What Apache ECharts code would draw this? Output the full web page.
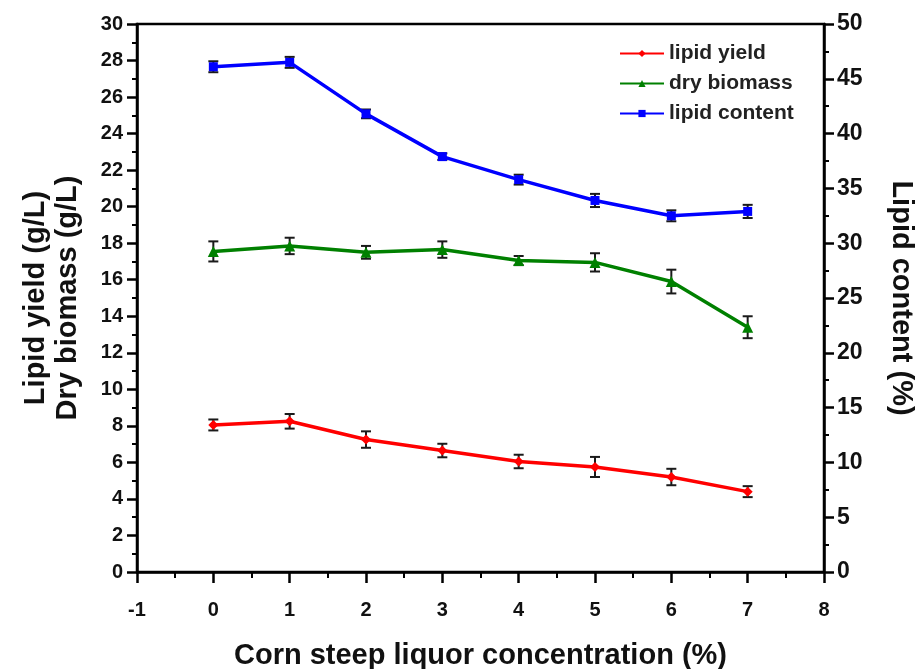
<!DOCTYPE html>
<html>
<head>
<meta charset="utf-8">
<script src="https://cdn.jsdelivr.net/npm/echarts@6/dist/echarts.min.js"></script>
<style>html,body{margin:0;padding:0;background:#fff}#c{width:919px;height:669px}</style>
</head>
<body>
<div id="c"></div>
<script>
const concentration = [0, 1, 2, 3, 4, 5, 6, 7];
const lipidYield = [8.05, 8.25, 7.25, 6.65, 6.05, 5.75, 5.2, 4.4];
const lipidYieldErr = [0.3, 0.4, 0.45, 0.37, 0.37, 0.55, 0.45, 0.3];
const dryBiomass = [17.55, 17.85, 17.5, 17.65, 17.05, 16.95, 15.9, 13.4];
const dryBiomassErr = [0.55, 0.45, 0.35, 0.45, 0.25, 0.5, 0.65, 0.6];
const lipidContent = [46.1, 46.5, 41.8, 37.9, 35.8, 33.9, 32.5, 32.9];
const lipidContentErr = [0.5, 0.5, 0.4, 0.3, 0.45, 0.6, 0.5, 0.6];
const leftTicks = {min: 0, max: 30, interval: 2};
const rightTicks = {min: 0, max: 50, interval: 5};
const xTicks = {min: -1, max: 8, interval: 1};

const FONT = '"Liberation Sans", Arial, sans-serif';
const chart = echarts.init(document.getElementById('c'), null, {renderer: 'canvas'});

function pts(vals) { return concentration.map((x, i) => [x, vals[i]]); }
function errData(vals, errs) { return concentration.map((x, i) => [x, vals[i] - errs[i], vals[i] + errs[i]]); }

function errorBar(vals, errs, yIdx, name) {
  return {
    type: 'custom',
    name: name + '_err',
    yAxisIndex: yIdx,
    z: 1,
    silent: true,
    data: errData(vals, errs),
    encode: {x: 0, y: [1, 2]},
    renderItem: function (params, api) {
      const x = api.value(0);
      const lo = api.coord([x, api.value(1)]);
      const hi = api.coord([x, api.value(2)]);
      const w = 5;
      const st = {stroke: '#1a1a1a', lineWidth: 2};
      return {
        type: 'group',
        children: [
          {type: 'line', shape: {x1: lo[0], y1: lo[1], x2: hi[0], y2: hi[1]}, style: st},
          {type: 'line', shape: {x1: lo[0] - w, y1: lo[1], x2: lo[0] + w, y2: lo[1]}, style: st},
          {type: 'line', shape: {x1: hi[0] - w, y1: hi[1], x2: hi[0] + w, y2: hi[1]}, style: st}
        ]
      };
    }
  };
}

const axisLabelStyle = {color: '#111', fontFamily: FONT, fontWeight: 'bold', fontSize: 20};
const axisLineStyle = {show: true, onZero: false, lineStyle: {color: '#000', width: 2.5}};
const titleStyle = {color: '#111', fontFamily: FONT, fontWeight: 'bold', fontSize: 29};

chart.setOption({
  animation: false,
  backgroundColor: '#fff',
  grid: {left: 137, right: 95, top: 24, bottom: 97, containLabel: false, outerBoundsMode: 'none',
         show: true, borderColor: '#000', borderWidth: 2.5},
  legend: {
    orient: 'vertical',
    left: 614,
    top: 38,
    itemWidth: 44,
    itemHeight: 9,
    itemGap: 9,
    data: ['lipid yield', 'dry biomass', 'lipid content'],
    textStyle: {color: '#222', fontFamily: FONT, fontWeight: 'bold', fontSize: 21}
  },
  xAxis: {
    type: 'value',
    min: xTicks.min, max: xTicks.max, interval: xTicks.interval,
    name: 'Corn steep liquor concentration (%)',
    nameLocation: 'middle',
    nameGap: 69,
    nameTextStyle: titleStyle,
    axisLine: axisLineStyle,
    axisTick: {show: true, inside: false, length: 11, lineStyle: {color: '#000', width: 2.5}},
    minorTick: {show: true, splitNumber: 2, length: 6, lineStyle: {color: '#000', width: 2}},
    axisLabel: Object.assign({margin: 28}, axisLabelStyle),
    splitLine: {show: false}
  },
  yAxis: [
    {
      type: 'value',
      min: leftTicks.min, max: leftTicks.max, interval: leftTicks.interval,
      name: 'Lipid yield (g/L)\nDry biomass (g/L)',
      nameLocation: 'middle',
      nameGap: 53,
      nameRotate: 90,
      nameTextStyle: Object.assign({lineHeight: 32}, titleStyle),
      axisLine: axisLineStyle,
      axisTick: {show: true, length: 10, lineStyle: {color: '#000', width: 2.5}},
      minorTick: {show: true, splitNumber: 2, length: 5, lineStyle: {color: '#000', width: 2}},
      axisLabel: Object.assign({margin: 14}, axisLabelStyle),
      splitLine: {show: false}
    },
    {
      type: 'value',
      position: 'right',
      min: rightTicks.min, max: rightTicks.max, interval: rightTicks.interval,
      name: 'Lipid content (%)',
      nameLocation: 'middle',
      nameGap: 62,
      nameRotate: -90,
      nameTextStyle: titleStyle,
      axisLine: axisLineStyle,
      axisTick: {show: true, length: 10, lineStyle: {color: '#000', width: 2.5}},
      minorTick: {show: true, splitNumber: 2, length: 5, lineStyle: {color: '#000', width: 2}},
      axisLabel: Object.assign({}, axisLabelStyle, {margin: 13, fontSize: 23}),
      splitLine: {show: false}
    }
  ],
  series: [
    errorBar(lipidYield, lipidYieldErr, 0, 'lipid yield'),
    errorBar(dryBiomass, dryBiomassErr, 0, 'dry biomass'),
    errorBar(lipidContent, lipidContentErr, 1, 'lipid content'),
    {
      name: 'lipid yield', type: 'line', yAxisIndex: 0, z: 3,
      data: pts(lipidYield),
      symbol: 'diamond', symbolSize: 10,
      itemStyle: {color: '#ff0000'},
      lineStyle: {color: '#ff0000', width: 3.5}
    },
    {
      name: 'dry biomass', type: 'line', yAxisIndex: 0, z: 3,
      data: pts(dryBiomass),
      symbol: 'triangle', symbolSize: 11,
      itemStyle: {color: '#008000'},
      lineStyle: {color: '#008000', width: 3.5}
    },
    {
      name: 'lipid content', type: 'line', yAxisIndex: 1, z: 3,
      data: pts(lipidContent),
      symbol: 'rect', symbolSize: 9,
      itemStyle: {color: '#0000ff'},
      lineStyle: {color: '#0000ff', width: 3.5}
    }
  ]
});
</script>
</body>
</html>
